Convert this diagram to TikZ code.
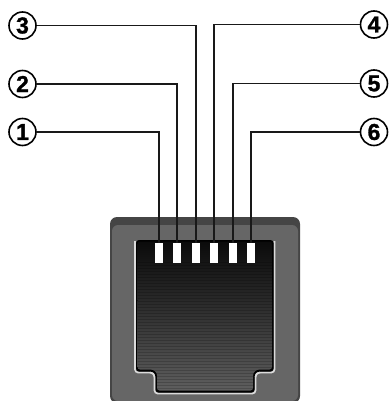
\documentclass[tikz,border=0pt]{standalone}
\usepackage{fontspec}
\setmainfont{Liberation Sans}
\newfontfamily\numfont[BoldFeatures={FakeBold=1.2}]{Liberation Sans}
\definecolor{cavbot}{gray}{0.38}
\definecolor{cavmid}{gray}{0.16}
\definecolor{cavtop}{gray}{0.04}
\definecolor{rimdark}{gray}{0.27}
\definecolor{face}{gray}{0.40}
\definecolor{lip}{gray}{0.86}
\begin{document}
\begin{tikzpicture}[x=1pt,y=-1pt,
 num/.style={circle,draw=black,line width=1.6pt,minimum size=27pt,inner sep=0pt,font=\numfont\bfseries\fontsize{23}{23}\selectfont,text=black},
 wire/.style={draw=black!90,line width=1.2pt},
 pin/.style={fill=white,draw=none,minimum width=8pt,minimum height=20pt,inner sep=0pt}]
\useasboundingbox (0,0) rectangle (388,401);
% housing
\fill[rimdark,rounded corners=7pt] (110,403) -- (110,217) -- (300,217) -- (300,403) -- cycle;
\fill[face,rounded corners=6pt] (112,401) -- (112,225) -- (298,225) -- (298,401) -- cycle;
% cavity
\draw[lip,line width=1.6pt,rounded corners=3pt] (135,241) -- (135,372.5) -- (152,372.5) -- (154.5,375) -- (154.5,393.5) -- (255.5,393.5) -- (255.5,375) -- (258,372.5) -- (274.5,372.5) -- (274.5,241);
\fill[black,rounded corners=3pt] (136,240) -- (136,371.5) -- (153,371.5) -- (155.5,374) -- (155.5,392.5) -- (254.5,392.5) -- (254.5,374) -- (257,371.5) -- (273.5,371.5) -- (273.5,240) -- cycle;
\begin{scope}
\clip[rounded corners=2.5pt] (137.5,241.5) -- (137.5,369.5) -- (153,369.5) -- (157,373) -- (157,390.5) -- (253,390.5) -- (253,373) -- (257,369.5) -- (272,369.5) -- (272,241.5) -- cycle;
\shade[top color=cavtop,bottom color=cavmid] (130,240) rectangle (280,300);
\shade[top color=cavmid,bottom color=cavbot] (130,300) rectangle (280,395);
\foreach \yy in {262,265,...,394} \draw[black,opacity=.18,line width=.7pt] (130,\yy) -- (280,\yy);
\end{scope}
% pins
\node[pin] (p1) at (159,253) {};
\node[pin] (p2) at (177,253) {};
\node[pin] (p3) at (196,253) {};
\node[pin] (p4) at (214,253) {};
\node[pin] (p5) at (233,253) {};
\node[pin] (p6) at (251,253) {};
% labels
\node[num] (n3) at (22.5,25.5) {3};
\node[num] (n2) at (22.5,84) {2};
\node[num] (n1) at (22.5,132) {1};
\node[num] (n4) at (374,24.5) {4};
\node[num] (n5) at (374,83.5) {5};
\node[num] (n6) at (374,132) {6};
% wires
\draw[wire] (n1) -- (p1.north |- n1) -- (p1.north);
\draw[wire] (n2) -- (p2.north |- n2) -- (p2.north);
\draw[wire] (n3) -- (p3.north |- n3) -- (p3.north);
\draw[wire] (n4) -- (p4.north |- n4) -- (p4.north);
\draw[wire] (n5) -- (p5.north |- n5) -- (p5.north);
\draw[wire] (n6) -- (p6.north |- n6) -- (p6.north);
\end{tikzpicture}
\end{document}
